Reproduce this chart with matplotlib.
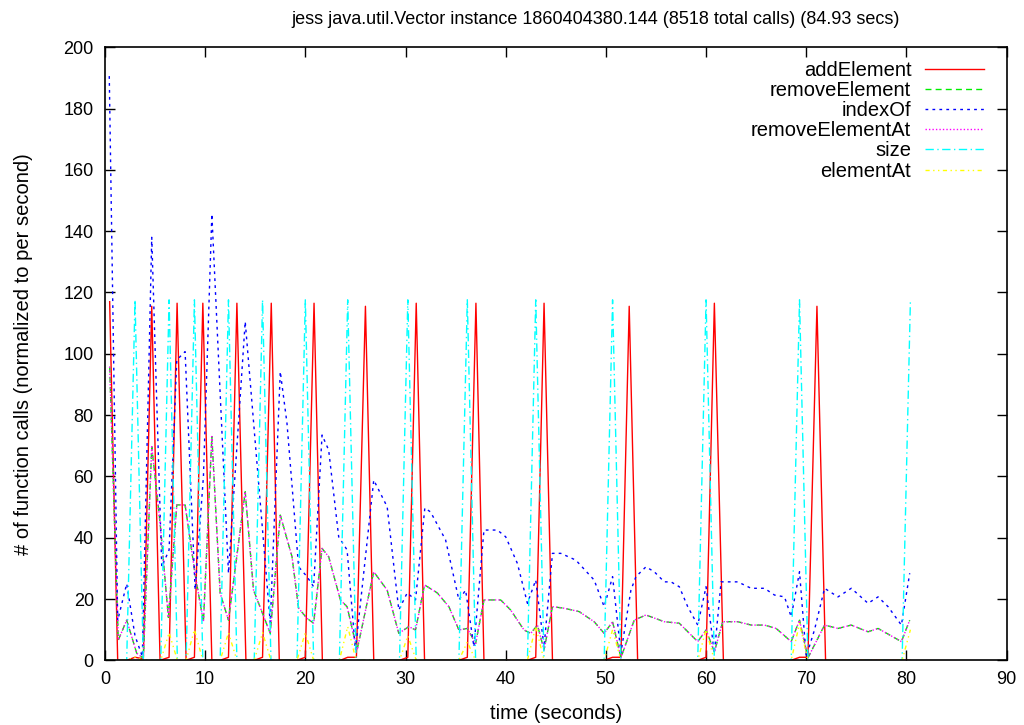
import matplotlib
matplotlib.use("Agg")
import matplotlib.pyplot as plt

plt.rcParams['font.family'] = ['Liberation Sans', 'DejaVu Sans']

title = "jess java.util.Vector instance 1860404380.144 (8518 total calls) (84.93 secs)"

# addElement (red)
add_t = [0.47, 1.27, 2.17, 3.0, 3.83, 4.67, 5.5, 6.4, 7.2, 8.1, 8.93, 9.77, 10.67, 11.5, 12.33, 13.17,
         14.07, 14.9, 15.73, 16.6, 17.4, 19.17, 20.0, 20.87, 21.7, 23.5, 24.23, 25.1, 26.0, 26.83,
         29.4, 30.23, 31.07, 31.9, 35.33, 36.17, 37.03, 37.83, 42.17, 43.0, 43.83, 44.67, 49.83,
         50.67, 51.5, 52.33, 53.17, 59.17, 60.0, 60.83, 61.73, 68.5, 69.33, 70.17, 71.07, 71.93, 80.33]
add_y = [117, 0, 0, 1, 0.5, 115.5, 0, 1, 116.5, 0, 1, 116.5, 0, 0, 1, 116.5,
         0, 0, 1, 116.5, 0, 0, 1, 116.5, 0, 0, 1, 1, 115.5, 0,
         0, 1, 116.5, 0, 0, 1, 116.5, 0, 0, 1, 116.5, 0, 0,
         1, 1, 115.5, 0, 0, 1, 116.5, 0, 0, 1, 1, 115.5, 0, 0]

# removeElement (green) / removeElementAt (magenta)
rem_t = [0.47, 1.33, 2.17, 3.17, 3.83, 4.67, 5.5, 6.33, 7.17, 8.0, 9.0, 9.83, 10.67, 11.5, 12.33,
         14.0, 14.83, 16.5, 17.5, 18.67, 19.33, 20.17, 20.83, 21.67, 22.33, 23.5, 24.17, 25.17,
         26.83, 28.17, 29.33, 30.33, 31.0, 31.9, 33.17, 34.33, 35.33, 36.17, 37.0, 37.83, 39.5,
         40.5, 41.83, 42.5, 43.17, 43.83, 44.67, 45.83, 47.33, 48.83, 49.83, 50.67, 51.5, 52.83,
         54.0, 55.83, 57.33, 59.17, 60.0, 60.83, 61.67, 63.17, 64.5, 65.83, 67.0, 68.5, 69.33,
         70.17, 71.83, 73.17, 74.5, 76.17, 77.17, 79.5, 80.33]
rem_y = [95.8, 6.6, 13.1, 2.3, 0.7, 69.7, 45, 14, 50.7, 50.7, 28, 12.5, 73, 21.9, 13.1,
         55, 22.9, 8.8, 47.4, 33.8, 17, 13.7, 12.1, 36.5, 33.8, 19.7, 17.5, 3.4,
         28.9, 22.9, 8.8, 11, 9.9, 24.6, 22, 17.5, 9.9, 10.4, 5.5, 19.7, 19.7,
         16.4, 9.9, 8.8, 11.5, 3.4, 17.5, 17, 15.9, 12.6, 8.8, 12.6, 0.8, 13.1,
         14.8, 12.6, 12.1, 6.1, 9.9, 2.8, 12.6, 12.6, 11.5, 11.5, 10.4, 6.1, 13.1,
         0.8, 11.5, 10.4, 11.5, 9.3, 10.4, 6.1, 13.1]
remat_t = list(rem_t)
remat_y = list(rem_y)

# indexOf (blue)
idx_t = [0.43, 1.27, 2.17, 3.0, 3.73, 4.67, 5.67, 6.4, 7.17, 8.0, 9.0, 9.83, 10.67, 12.33, 14.0,
         16.5, 17.5, 18.17, 19.33, 20.17, 20.83, 21.67, 22.33, 23.33, 24.17, 25.0, 26.83, 28.17,
         29.33, 30.17, 31.0, 31.93, 32.5, 34.0, 35.33, 36.0, 36.83, 37.83, 39.17, 40.0, 41.17,
         42.17, 43.0, 43.83, 44.67, 45.5, 47.0, 48.83, 49.83, 50.67, 51.5, 52.5, 53.0, 54.0,
         54.83, 55.83, 56.5, 57.33, 58.17, 59.17, 60.0, 60.83, 61.5, 63.17, 64.5, 65.83, 66.83,
         67.83, 68.5, 69.33, 70.0, 70.83, 71.83, 73.17, 74.5, 76.17, 77.17, 78.17, 79.5, 80.33]
idx_y = [190.6, 13, 25, 8, 1.2, 138, 30.5, 36, 98, 100.7, 23, 60, 145.6, 28.4, 110.5,
         12.2, 94.2, 77.3, 30.5, 27.3, 24, 73.5, 68.6, 40.3, 36, 3.4, 58.8, 50.1,
         16.4, 22, 19.7, 49.7, 48.4, 39.3, 19.7, 22.9, 4.4, 42.5, 42.5, 40.3, 31.6,
         18.6, 26.2, 4.4, 34.9, 34.9, 32.7, 26.2, 17.5, 27.3, 2.4, 22.9, 27.3, 30.5,
         28.9, 25.6, 25.6, 24, 17.5, 11.5, 24, 2.3, 25.6, 25.6, 23.5, 23.5, 21.3,
         20.7, 14.2, 28.9, 1.2, 10, 23.5, 20.7, 23.5, 18.6, 20.7, 17.5, 11.5, 28.4]

# size (cyan)
size_t = [0.0, 2.17, 3.0, 3.83, 5.57, 6.4, 7.23, 8.1, 8.93, 9.77, 11.5, 12.33, 13.17, 14.9, 15.73,
          16.57, 19.17, 20.0, 20.83, 23.4, 24.23, 25.07, 29.4, 30.23, 31.07, 35.33, 36.17, 37.0,
          42.17, 43.0, 43.83, 49.83, 50.67, 51.5, 59.17, 60.0, 60.83, 68.5, 69.33, 70.17, 79.57, 80.4]
size_y = [0, 0, 117.6, 0, 0, 117.6, 0, 0, 117.6, 0, 0, 117.6, 0, 0, 117.6,
          0, 0, 117.6, 0, 0, 117.6, 0, 0, 117.6, 0, 0, 117.6, 0,
          0, 117.6, 0, 0, 117.6, 0, 0, 117.6, 0, 0, 117.6, 0, 0, 117.6]

# elementAt (yellow)
elem_t = [0.0, 2.17, 3.0, 3.83, 5.57, 6.4, 7.23, 8.1, 8.93, 9.77, 11.5, 12.33, 13.17, 14.9, 15.73,
          16.57, 19.17, 20.0, 20.83, 23.4, 24.23, 25.07, 29.4, 30.23, 31.07, 35.33, 36.17, 37.0,
          42.17, 43.0, 43.83, 49.83, 50.67, 51.5, 59.17, 60.0, 60.83, 68.5, 69.33, 70.17, 79.57, 80.4]
elem_y = [0, 0, 1, 0, 0, 9, 0, 0, 10, 0, 0, 9, 0, 0, 9,
          0, 0, 9, 0, 0, 11, 0, 0, 8, 0, 0, 6, 0,
          0, 11, 0, 0, 10, 0, 0, 10, 0, 0, 12, 0, 0, 10]

fig = plt.figure(figsize=(10.24, 7.25), dpi=100)
ax = fig.add_axes([0.1025, 0.0892, 0.983 - 0.1025, 0.9348 - 0.0892])

ax.plot(add_t, add_y, color='#ff0000', lw=1, label='addElement')
ax.plot(rem_t, rem_y, color='#00ee00', lw=1, dashes=(4.3, 3), label='removeElement')
ax.plot(idx_t, idx_y, color='#0000ff', lw=1, dashes=(2, 3), label='indexOf')
ax.plot(remat_t, remat_y, color='#ff00ff', lw=1, dashes=(1, 1.5), label='removeElementAt')
ax.plot(size_t, size_y, color='#00ffff', lw=1, dashes=(6, 2.5, 1, 2.5), label='size')
ax.plot(elem_t, elem_y, color='#ffff00', lw=1, dashes=(3, 2.5, 1, 2.5, 1, 2.5), label='elementAt')

ax.set_xlim(0, 90)
ax.set_ylim(0, 200)
ax.set_xticks(range(0, 91, 10))
ax.set_yticks(range(0, 201, 20))
ax.tick_params(direction='in', length=7, width=1, top=True, right=True, labelsize=13, pad=8)
for s in ax.spines.values():
    s.set_linewidth(1.2)

ax.set_xlabel("time (seconds)", fontsize=14.5, labelpad=11)
ax.set_ylabel("# of function calls (normalized to per second)", fontsize=14.5, labelpad=22)
fig.text(596 / 1024, 1 - 19 / 725, title, ha='center', va='center', fontsize=13)

ax.legend(loc='upper right', frameon=False, markerfirst=False, fontsize=14.5,
          handlelength=2.9, handletextpad=0.7, labelspacing=0.055,
          borderaxespad=0, bbox_to_anchor=(0.9837, 0.9907))

fig.savefig("out.png", dpi=100)
